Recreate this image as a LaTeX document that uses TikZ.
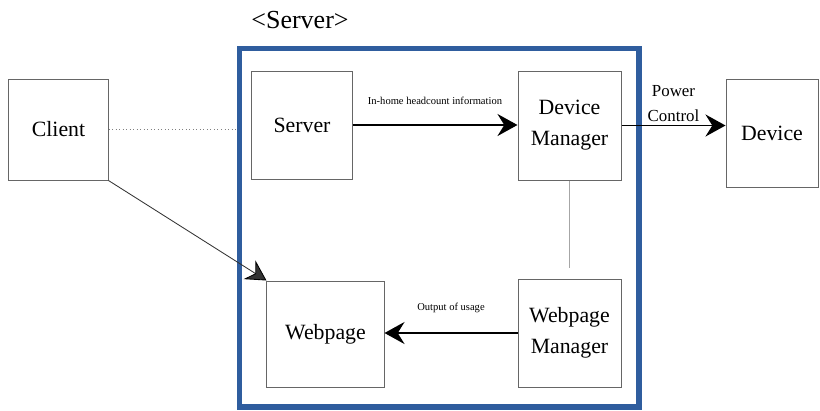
\documentclass[tikz,border=0pt]{standalone}
\usepackage{fontspec}
\setmainfont{Liberation Serif}
\usepackage{xcolor}
\usetikzlibrary{arrows.meta}
\usetikzlibrary{calc}
\definecolor{frameblue}{RGB}{47,93,158}

\begin{document}
\begin{tikzpicture}[x=0.025cm,y=-0.025cm,
    box/.style={draw=black!60,line width=0.7pt,align=center,inner sep=0pt,
      font=\fontsize{15.5}{22}\selectfont},
    tip/.style={-{Stealth[black,length=0.5cm,width=0.55cm,inset=0.17cm]}},
    flow/.style={tip,line width=1.4pt},
    tag/.style={font=\fontsize{7.5}{9}\selectfont,inner sep=1pt}]
  \useasboundingbox (0,0) rectangle (820,410);
  \node[draw=frameblue,line width=3.9pt,minimum width=9.99cm,minimum height=8.96cm] (srv) at (439.25,227.75) {};
  \node[font=\fontsize{18.5}{20}\selectfont] (srvtitle) at (300,20) {<Server>};

  \node[box,minimum width=2.475cm,minimum height=2.525cm] (client) at (58.5,129.5) {Client};
  \node[box,minimum width=2.5cm,minimum height=2.7cm] (server) at (302,125) {Server};
  \node[box,minimum width=2.575cm,minimum height=2.725cm] (devmgr) at (569.5,125.5) {Device\\Manager};
  \node[box,minimum width=2.925cm,minimum height=2.65cm] (webpage) at (325.5,334) {Webpage};
  \node[box,minimum width=2.575cm,minimum height=2.7cm] (webmgr) at (569.5,333) {Webpage\\Manager};
  \node[box,minimum width=2.3cm,minimum height=2.7cm] (device) at (772,133) {Device};

  \path[black!50,dotted,line width=0.5pt] (client.east) edge (client.east -| srv.west);
  \path[flow] (server.east) edge node[tag,midway,above=0.45cm] {In-home headcount information} (server.east -| devmgr.west);
  \path[flow] (devmgr.east) edge node[midway,above,align=center,inner sep=2pt,
    font=\fontsize{12}{17.5}\selectfont] {Power\\Control} (devmgr.east -| device.west);
  \path[black!35,line width=0.6pt,shorten >=0.275cm] (devmgr.south) edge (webmgr.north);
  \path[flow] (webmgr.west) edge node[tag,midway,above=0.45cm] {Output of usage} (webmgr.west -| webpage.east);
  \path[tip,black!80,line width=0.6pt] (client.south east) edge (webpage.north west);
\end{tikzpicture}
\end{document}
